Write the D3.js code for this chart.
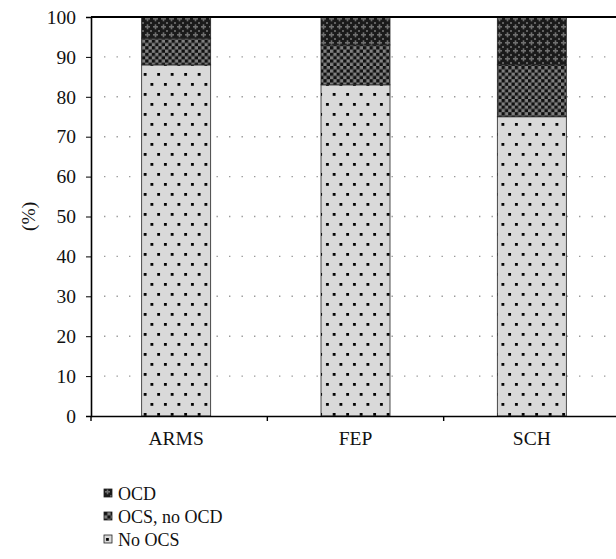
<!DOCTYPE html>
<html lang="en">
<head>
<meta charset="UTF-8">
<title>OCS stacked bars</title>
<script src="https://d3js.org/d3.v7.min.js"></script>
<style>
  body { margin: 0; background: #fff; }
  svg { display: block; font-family: "Liberation Serif", "DejaVu Serif", serif; }
</style>
</head>
<body>
<div class="viz"></div>
<script>
const groups = ["ARMS", "FEP", "SCH"];
const seriesNames = ["No OCS", "OCS, no OCD", "OCD"];
const noOcs = [88, 83, 75];
const ocsNoOcd = [6.7, 10, 13];
const ocd = [5.3, 7, 12];
const yTicks = [0, 10, 20, 30, 40, 50, 60, 70, 80, 90, 100];

const width = 616, height = 559;
const margin = {left: 91, top: 17, right: -4, bottom: 143};
const fontSize = 19.5;

const svg = d3.select(".viz").append("svg")
  .attr("width", width).attr("height", height);

// fill patterns
const defs = svg.append("defs");
const pDots = defs.append("pattern").attr("id", "p-dots")
  .attr("patternUnits", "userSpaceOnUse").attr("width", 13.5).attr("height", 20);
pDots.append("rect").attr("width", 13.5).attr("height", 20).attr("fill", "#d9d9d9");
pDots.append("rect").attr("x", 2).attr("y", 3).attr("width", 2.8).attr("height", 2.8).attr("fill", "#000");
pDots.append("rect").attr("x", 8.75).attr("y", 13).attr("width", 2.8).attr("height", 2.8).attr("fill", "#000");

const pCheck = defs.append("pattern").attr("id", "p-check")
  .attr("patternUnits", "userSpaceOnUse").attr("width", 6.6).attr("height", 6.6);
pCheck.append("rect").attr("width", 6.6).attr("height", 6.6).attr("fill", "#808080");
pCheck.append("rect").attr("width", 3.3).attr("height", 3.3).attr("fill", "#111");
pCheck.append("rect").attr("x", 3.3).attr("y", 3.3).attr("width", 3.3).attr("height", 3.3).attr("fill", "#111");

const pCross = defs.append("pattern").attr("id", "p-cross")
  .attr("patternUnits", "userSpaceOnUse").attr("width", 8).attr("height", 8);
pCross.append("rect").attr("width", 8).attr("height", 8).attr("fill", "#1a1a1a");
pCross.append("rect").attr("x", 1).attr("y", 2).attr("width", 5).attr("height", 1.6).attr("fill", "#707070");
pCross.append("rect").attr("x", 2.7).attr("y", 0.3).attr("width", 1.6).attr("height", 5).attr("fill", "#707070");
pCross.append("rect").attr("x", 6).attr("y", 6).attr("width", 2).attr("height", 2).attr("fill", "#606060");

const fills = ["url(#p-dots)", "url(#p-check)", "url(#p-cross)"];

const x = d3.scaleBand().domain(groups)
  .range([margin.left, width - margin.right]).paddingInner(0).paddingOuter(0);
const y = d3.scaleLinear().domain([0, 100]).range([height - margin.bottom, margin.top]);

// dotted gridlines
svg.append("g").selectAll("line").data(yTicks.filter(t => t > 0 && t < 100)).join("line")
  .attr("x1", margin.left + 13).attr("x2", width)
  .attr("y1", d => y(d)).attr("y2", d => y(d))
  .attr("stroke", "#999").attr("stroke-width", 1.4)
  .attr("stroke-dasharray", "1.4 11.1");

// stacked bars
const rows = groups.map((g, i) => ({group: g, "No OCS": noOcs[i], "OCS, no OCD": ocsNoOcd[i], "OCD": ocd[i]}));
const stacked = d3.stack().keys(seriesNames)(rows);
const barW = 69;

svg.append("g").selectAll("g").data(stacked).join("g")
  .attr("fill", (d, i) => fills[i])
  .selectAll("rect").data(d => d).join("rect")
  .attr("x", d => x(d.data.group) + x.bandwidth() / 2 - barW / 2 - (d.data.group === "ARMS" ? 3 : 0))
  .attr("y", d => y(d[1]))
  .attr("width", barW)
  .attr("height", d => y(d[0]) - y(d[1]))
  .attr("stroke", "#222").attr("stroke-width", 0.8);

// axes
const yAxis = svg.append("g").attr("transform", `translate(${margin.left},0)`)
  .call(d3.axisLeft(y).tickValues(yTicks).tickSize(5).tickPadding(10));
yAxis.select(".domain").attr("stroke-width", 1.6);
yAxis.selectAll("text").attr("font-size", fontSize).attr("fill", "#111")
  .attr("font-family", "Liberation Serif, serif");

const xAxis = svg.append("g").attr("transform", `translate(0,${y(0)})`)
  .call(d3.axisBottom(x).tickSize(0).tickPadding(15));
xAxis.select(".domain").attr("stroke-width", 1.6);
xAxis.selectAll("text").attr("font-size", fontSize).attr("fill", "#111")
  .attr("font-family", "Liberation Serif, serif")
  .attr("dx", d => d === "ARMS" ? -3 : 0);

// category separator ticks on the x axis
svg.append("g").selectAll("line").data(groups).join("line")
  .attr("x1", d => x(d)).attr("x2", d => x(d))
  .attr("y1", y(0)).attr("y2", y(0) + 5)
  .attr("stroke", "#000").attr("stroke-width", 1.4);

// top frame line
svg.append("line")
  .attr("x1", margin.left).attr("x2", width)
  .attr("y1", y(100)).attr("y2", y(100))
  .attr("stroke", "#000").attr("stroke-width", 2.2);

// y label
svg.append("text")
  .attr("transform", `translate(35,${(y(0) + y(100)) / 2}) rotate(-90)`)
  .attr("text-anchor", "middle")
  .attr("font-size", fontSize).attr("fill", "#111")
  .text("(%)");

// legend (top entry is OCD)
const legendItems = seriesNames.slice().reverse();
const legend = svg.append("g").selectAll("g").data(legendItems).join("g")
  .attr("transform", (d, i) => `translate(104,${489 + i * 23})`);
legend.append("rect")
  .attr("width", 8).attr("height", 8)
  .attr("fill", d => fills[seriesNames.indexOf(d)])
  .attr("stroke", "#222").attr("stroke-width", 0.8);
legend.append("text")
  .attr("x", 14).attr("y", 10.5)
  .attr("font-size", 18).attr("fill", "#111")
  .text(d => d);
</script>
</body>
</html>
